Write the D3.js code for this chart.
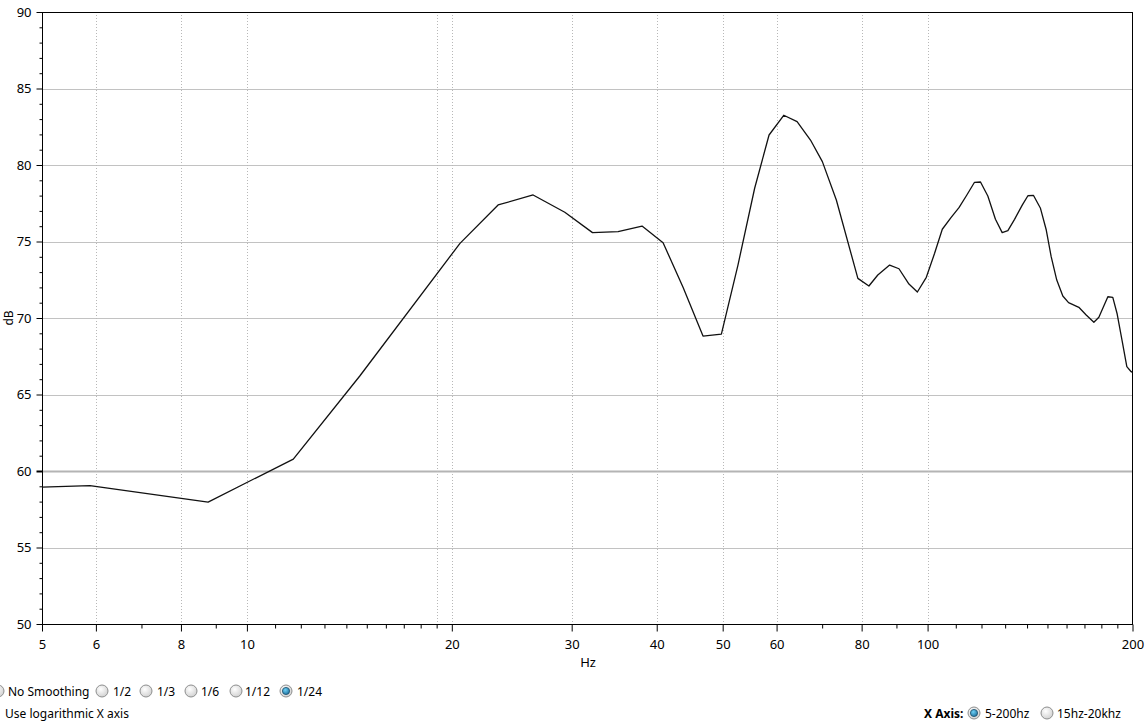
<!DOCTYPE html>
<html>
<head>
<meta charset="utf-8">
<script src="https://cdn.jsdelivr.net/npm/d3@7"></script>
<style>
  html, body { margin: 0; padding: 0; background: #fff; }
  svg { display: block; font-family: "Noto Sans", "Open Sans", sans-serif; }
</style>
</head>
<body>
<svg id="chart" width="1146" height="726"></svg>
<script>
// ---- data ----
const freqs = [5, 5.88, 8.77, 11.70, 14.65, 20.56, 23.39, 26.33, 29.31, 32.19, 35.10, 38.06, 40.87, 43.74, 46.78, 49.78,
  52.65, 55.71, 58.49, 61.47, 64.31, 67.29, 70.05, 73.44, 78.99, 81.99, 84.5, 87.95, 90.77, 93.89, 96.6, 99.57,
  102.4, 105.1, 108.3, 111.2, 114.2, 117.2, 119.6, 122.6, 125.8, 128.7, 131.2, 134.2, 137.8, 140.4, 143.1, 146.5,
  149.4, 151.9, 154.8, 158.0, 161.1, 166.8, 171.0, 175.5, 178.5, 184.0, 187.1, 189.9, 193.2, 196.2, 199.1, 200];
const dbValues = [58.95, 59.04, 57.97, 60.78, 66.21, 74.88, 77.39, 78.04, 76.91, 75.58, 75.64, 76.01, 74.92, 72.0, 68.82, 68.95,
  73.46, 78.48, 81.96, 83.25, 82.83, 81.63, 80.22, 77.71, 72.59, 72.09, 72.81, 73.46, 73.22, 72.22, 71.70, 72.66,
  74.23, 75.80, 76.58, 77.21, 78.04, 78.87, 78.89, 77.97, 76.45, 75.58, 75.71, 76.45, 77.39, 77.99, 78.01, 77.17,
  75.75, 74.01, 72.48, 71.44, 71.0, 70.70, 70.20, 69.72, 70.05, 71.39, 71.35, 70.26, 68.45, 66.82, 66.49, 66.45];

const xMajorTicks = [5, 6, 8, 10, 20, 30, 40, 50, 60, 80, 100, 200];
const xMinorTicks = [7, 9, 11, 12, 13, 14, 15, 16, 17, 18, 19, 70, 90, 110, 120, 130, 140, 150, 160, 170, 180, 190];
const xGridFreqs = [5, 6, 8, 10, 19, 20, 30, 40, 50, 60, 80, 100];
const yMajorTicks = [50, 55, 60, 65, 70, 75, 80, 85, 90];
const yMinorTicks = d3.range(50, 91, 1);
const yGridValues = [55, 60, 65, 70, 75, 80, 85];
const smoothingOptions = ["No Smoothing", "1/2", "1/3", "1/6", "1/12", "1/24"];
const selectedSmoothing = "1/24";
const axisOptions = ["5-200hz", "15hz-20khz"];
const selectedAxis = "5-200hz";

// ---- layout ----
const L = 42, R = 1132.5, T = 12, B = 624;
const svg = d3.select("#chart");
const x = d3.scaleLog().domain([5, 200]).range([L, R]);
const y = d3.scaleLinear().domain([50, 90]).range([B, T]);

// gradients for radio buttons
const defs = svg.append("defs");
const g1 = defs.append("radialGradient").attr("id", "radioOff").attr("cx", "40%").attr("cy", "35%").attr("r", "70%");
g1.append("stop").attr("offset", "0%").attr("stop-color", "#ffffff");
g1.append("stop").attr("offset", "100%").attr("stop-color", "#cfcfcf");
const g2 = defs.append("radialGradient").attr("id", "radioOn").attr("cx", "40%").attr("cy", "35%").attr("r", "70%");
g2.append("stop").attr("offset", "0%").attr("stop-color", "#6fd0f5");
g2.append("stop").attr("offset", "100%").attr("stop-color", "#1a6e9c");

// horizontal grid
svg.append("g").selectAll("line").data(yGridValues).join("line")
  .attr("x1", L).attr("x2", R)
  .attr("y1", d => Math.round(y(d)) + 0.5).attr("y2", d => Math.round(y(d)) + 0.5)
  .attr("stroke", d => d === 60 ? "#b4b4b4" : "#c2c2c2")
  .attr("stroke-width", d => d === 60 ? 2 : 1);

// vertical dotted grid
svg.append("g").selectAll("line").data(xGridFreqs).join("line")
  .attr("x1", d => Math.round(x(d)) + 0.5).attr("x2", d => Math.round(x(d)) + 0.5)
  .attr("y1", T).attr("y2", B)
  .attr("stroke", "#b8b8b8").attr("stroke-width", 1).attr("stroke-dasharray", "1,2");

// frame (top / right)
svg.append("line").attr("x1", L).attr("x2", R + 0.5).attr("y1", T + 0.5).attr("y2", T + 0.5).attr("stroke", "#000");
svg.append("line").attr("x1", R).attr("x2", R).attr("y1", T).attr("y2", B).attr("stroke", "#000");

// x axis
const xAxis = d3.axisBottom(x).tickValues(xMajorTicks).tickFormat(d3.format("d")).tickSize(7).tickPadding(8);
const gx = svg.append("g").attr("transform", `translate(0,${B + 0.5})`).call(xAxis);
gx.select(".domain").attr("d", `M${L},0H${R + 0.5}`);
gx.selectAll("text").attr("font-size", 13).attr("fill", "#000").attr("font-family", "Noto Sans, sans-serif");
const xAxisMinor = d3.axisBottom(x).tickValues(xMinorTicks).tickFormat("").tickSize(4);
const gxm = svg.append("g").attr("transform", `translate(0,${B + 0.5})`).call(xAxisMinor);
gxm.select(".domain").remove();

// y axis
const yAxis = d3.axisLeft(y).tickValues(yMajorTicks).tickSize(6).tickPadding(5);
const gy = svg.append("g").attr("transform", `translate(${L + 0.5},0)`).call(yAxis);
gy.select(".domain").attr("d", `M0,${T}V${B}`);
gy.selectAll("text").attr("font-size", 13).attr("fill", "#000").attr("font-family", "Noto Sans, sans-serif");
gy.selectAll(".tick line").attr("stroke-width", d => d === 60 ? 2 : 1);
const yAxisMinor = d3.axisLeft(y).tickValues(yMinorTicks.filter(v => !yMajorTicks.includes(v))).tickFormat("").tickSize(3);
const gym = svg.append("g").attr("transform", `translate(${L + 0.5},0)`).call(yAxisMinor);
gym.select(".domain").remove();

// axis titles
svg.append("text").attr("x", 588).attr("y", 667).attr("text-anchor", "middle")
  .attr("font-size", 13).text("Hz");
svg.append("text").attr("transform", "translate(13,318) rotate(-90)").attr("text-anchor", "middle")
  .attr("font-size", 12).text("dB");

// curve
const line = d3.line().x((d, i) => x(freqs[i])).y(d => y(d));
svg.append("path").datum(dbValues).attr("d", line)
  .attr("fill", "none").attr("stroke", "#111").attr("stroke-width", 1.3).attr("stroke-linejoin", "round");

// ---- controls ----
function radio(cx, cy, on) {
  const g = svg.append("g");
  g.append("circle").attr("cx", cx).attr("cy", cy).attr("r", 6)
    .attr("fill", "url(#radioOff)").attr("stroke", "#8e8f8f").attr("stroke-width", 1);
  if (on) {
    g.append("circle").attr("cx", cx).attr("cy", cy).attr("r", 3.6)
      .attr("fill", "url(#radioOn)").attr("stroke", "#1d4f6b").attr("stroke-width", 0.8);
  }
}
const smoothRadioX = [-2, 102, 146, 191, 236, 286];
const smoothTextX = [8, 113, 157, 201, 245, 297];
smoothingOptions.forEach((s, i) => {
  radio(smoothRadioX[i], 691, s === selectedSmoothing);
  svg.append("text").attr("x", smoothTextX[i]).attr("y", 696).attr("font-size", 12).text(s);
});
svg.append("text").attr("x", 5).attr("y", 718).attr("font-size", 12).text("Use logarithmic X axis");

svg.append("text").attr("x", 924).attr("y", 718).attr("font-size", 12).attr("font-weight", "bold").text("X Axis:");
const axRadioX = [974, 1047];
const axTextX = [985, 1057];
axisOptions.forEach((s, i) => {
  radio(axRadioX[i], 713, s === selectedAxis);
  svg.append("text").attr("x", axTextX[i]).attr("y", 718).attr("font-size", 12).text(s);
});
</script>
</body>
</html>
